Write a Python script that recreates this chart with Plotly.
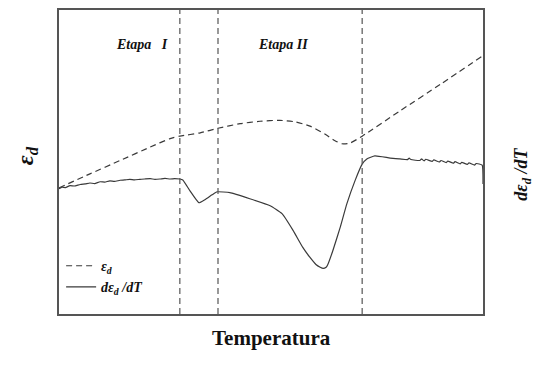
import plotly.graph_objects as go

# Temperature axis (arbitrary units, 0-100) and normalised signal levels
temp_eps = [0, 7.3, 14.4, 21.5, 26.2, 28.5, 33.3, 37.5, 42.7, 47.4, 52.1, 55.7,
            59.2, 62.7, 65.1, 66.7, 68.6, 71.5, 80.4, 89.9, 100]
eps_d = [41.5, 46.1, 50.5, 54.9, 57.7, 58.5, 59.6, 61.1, 62.6, 63.4, 63.7, 63.2,
         61.8, 59.2, 57.0, 56.0, 56.2, 58.5, 66.8, 75.5, 85.0]

temp_deriv = [0, 0.7, 1.5, 2.6, 3.6, 5.0, 6.2, 7.3, 8.4, 9.7, 10.8, 12.0, 13.1,
              14.4, 15.5, 16.7, 17.8, 19.1, 20.2, 21.5, 22.6, 23.8, 25.0, 26.2,
              27.3, 28.5, 29.2, 30.9, 33.0, 34.4, 36.1, 37.3, 40.3, 45.0, 49.8,
              52.6, 55.2, 57.5, 59.2, 60.6, 61.6, 62.3, 63.0, 63.4, 64.6, 66.3,
              67.9, 69.8, 71.5, 72.6, 74.5, 78.1, 80.4, 82.2, 82.6, 83.0, 85.1,
              85.5, 86.1, 86.5, 88.0, 88.4, 89.7, 90.1, 91.3, 91.7, 93.0, 93.4,
              94.6, 95.0, 96.3, 96.7, 98.0, 98.4, 99.8, 100]
deriv_eps_d = [41.2, 41.7, 41.6, 42.2, 42.1, 42.6, 42.8, 43.1, 42.9, 43.5, 43.4,
               43.8, 43.6, 44.0, 44.1, 44.3, 44.1, 44.3, 44.4, 44.5, 44.3, 44.4,
               44.6, 44.4, 44.5, 44.4, 44.1, 40.5, 36.6, 37.6, 39.2, 40.2, 39.9,
               37.9, 35.6, 33.0, 27.5, 21.9, 18.6, 16.3, 15.4, 15.0, 15.4, 16.3,
               20.9, 28.4, 36.3, 43.8, 49.3, 51.0, 52.0, 51.3, 51.0, 50.8, 51.3,
               50.8, 50.5, 51.0, 50.4, 50.9, 50.2, 50.7, 50.0, 50.5, 49.8, 50.3,
               49.6, 50.1, 49.4, 49.9, 49.2, 49.7, 49.0, 49.5, 49.0, 42.8]

# Boundaries between the transformation stages
stage_bounds = [28.5, 37.5, 71.5]
stage_labels = ["Etapa&nbsp;&nbsp;&nbsp;I", "Etapa II"]
stage_label_x = [19.6, 52.8]

line_color = "#3a3a3a"
serif = "Liberation Serif"

fig = go.Figure()
fig.add_trace(go.Scatter(
    x=temp_eps, y=eps_d, mode="lines", name="ε<sub>d</sub>",
    line=dict(color=line_color, width=1.2, dash="6px,4px", shape="spline",
              smoothing=0.6),
))
fig.add_trace(go.Scatter(
    x=temp_deriv, y=deriv_eps_d, mode="lines", name="dε<sub>d</sub> /dT",
    line=dict(color=line_color, width=1.2, shape="spline", smoothing=0.4),
    yaxis="y2",
))

for xb in stage_bounds:
    fig.add_shape(type="line", x0=xb, x1=xb, y0=0, y1=1, xref="x", yref="paper",
                  line=dict(color="#555555", width=1.2, dash="6px,4px"))

for lbl, lx in zip(stage_labels, stage_label_x):
    fig.add_annotation(x=lx, y=88.5, xref="x", yref="y", text=f"<b><i>{lbl}</i></b>",
                       showarrow=False, font=dict(family=serif, size=14, color="#111"))

fig.add_annotation(x=-0.115, y=0.52, xref="paper", yref="paper", textangle=-90,
                   text="<b><i>ε<sub>d</sub></i></b>", showarrow=False,
                   font=dict(family=serif, size=24, color="#111"))
fig.add_annotation(x=1.125, y=0.46, xref="paper", yref="paper", textangle=-90,
                   text="<b><i>dε<sub>d</sub> /dT</i></b>", showarrow=False,
                   font=dict(family=serif, size=18, color="#111"))
fig.add_annotation(x=0.5, y=-0.125, xref="paper", yref="paper",
                   text="<b>Temperatura</b>", showarrow=False,
                   font=dict(family=serif, size=21, color="#111"))

axis_style = dict(showgrid=False, zeroline=False, showticklabels=False, ticks="",
                  showline=True, linecolor="#555555", linewidth=1.5, mirror=True)

fig.update_layout(
    width=533, height=367,
    margin=dict(l=59, r=50, t=8, b=53),
    paper_bgcolor="white", plot_bgcolor="white",
    xaxis=dict(range=[0, 100], **axis_style),
    yaxis=dict(range=[0, 100], **axis_style),
    yaxis2=dict(range=[0, 100], overlaying="y", side="right", showgrid=False,
                zeroline=False, showticklabels=False, ticks="", showline=False),
    showlegend=True,
    legend=dict(x=0.005, y=0.21, xanchor="left", yanchor="top",
                bgcolor="rgba(0,0,0,0)", itemwidth=30,
                font=dict(family=serif, size=14, color="#111", style="italic",
                          weight="bold")),
)

fig.write_html("out.html")
